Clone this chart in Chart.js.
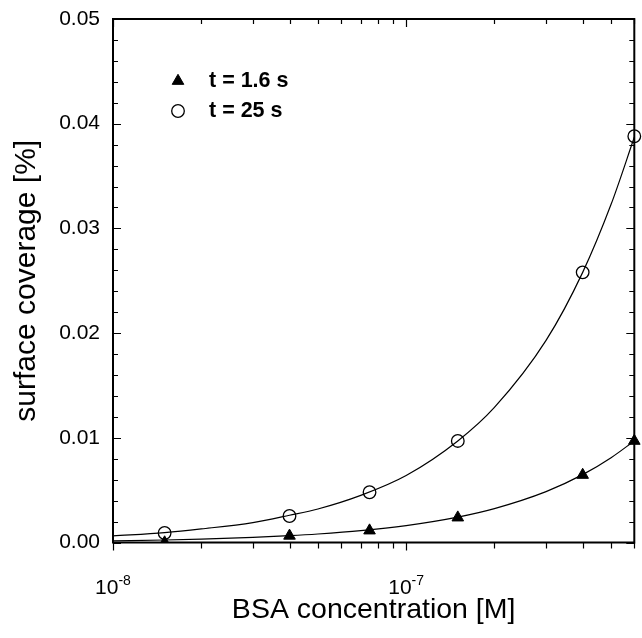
<!DOCTYPE html>
<html>
<head>
<meta charset="utf-8">
<script src="https://cdn.jsdelivr.net/npm/chart.js@4.4.1/dist/chart.umd.min.js"></script>
<style>
  html, body { margin: 0; padding: 0; background: #fff; }
</style>
</head>
<body>
<canvas id="chart" width="642" height="638"></canvas>
<script>
// measured points
const concentration = [1.5e-8, 4e-8, 7.5e-8, 1.5e-7, 4e-7, 6e-7];
const coverageShort = [0.0000, 0.00064, 0.00114, 0.00238, 0.00645, 0.0097];
const coverageLong = [0.00091, 0.00253, 0.0048, 0.0097, 0.0258, 0.0388];

// fitted curves
const fitConcentration = [1e-8, 1.5e-8, 2e-8, 3e-8, 4e-8, 5e-8, 7e-8, 1e-7, 1.5e-7, 2e-7, 3e-7, 4e-7, 5e-7, 6e-7];
const fitShort = [0.00016, 0.00024, 0.00032, 0.00049, 0.00065, 0.00081, 0.00113, 0.00162, 0.00243, 0.00324, 0.00486, 0.00648, 0.0081, 0.0097];
const fitLong = [0.00063, 0.00095, 0.0013, 0.0019, 0.0026, 0.0032, 0.0045, 0.0064, 0.0097, 0.0129, 0.0193, 0.0258, 0.0323, 0.0387];

const seriesLabels = ['t = 1.6 s', 't = 25 s'];

// axis ticks
const xMajorTicks = [1e-8, 1e-7];
const xMajorExponents = ['-8', '-7'];
const xMinorTicks = [2e-8, 3e-8, 4e-8, 5e-8, 6e-8, 7e-8, 8e-8, 9e-8, 2e-7, 3e-7, 4e-7, 5e-7, 6e-7];
const yMajorTicks = [0, 0.01, 0.02, 0.03, 0.04, 0.05];
const yMinorTicks = [0.002, 0.004, 0.006, 0.008, 0.012, 0.014, 0.016, 0.018, 0.022, 0.024, 0.026, 0.028,
  0.032, 0.034, 0.036, 0.038, 0.042, 0.044, 0.046, 0.048];

const FONT = "'Liberation Sans', Arial, sans-serif";

const toPoints = (xs, ys) => xs.map((x, i) => ({ x: x, y: ys[i] }));

// frame with ticks on all four sides, and the 10^n labels
const framePlugin = {
  id: 'frame',
  beforeDatasetsDraw(chart) {
    const { ctx, chartArea: a, scales } = chart;
    const xs = scales.x, ys = scales.y;
    ctx.save();
    ctx.strokeStyle = '#000';
    ctx.lineWidth = 1.2;
    ctx.beginPath();
    yMajorTicks.concat(yMinorTicks).forEach(v => {
      const len = yMajorTicks.includes(v) ? 8 : 5;
      const py = Math.round(ys.getPixelForValue(v)) + 0.5;
      ctx.moveTo(a.left, py); ctx.lineTo(a.left + len, py);
      ctx.moveTo(a.right, py); ctx.lineTo(a.right - len, py);
    });
    xMajorTicks.concat(xMinorTicks).forEach(v => {
      const major = xMajorTicks.includes(v);
      const px = Math.round(xs.getPixelForValue(v)) + 0.5;
      ctx.moveTo(px, a.bottom); ctx.lineTo(px, a.bottom + (major ? 8 : 6));
      ctx.moveTo(px, a.top); ctx.lineTo(px, a.top + (major ? 8 : 5));
    });
    ctx.stroke();
    ctx.lineWidth = 2;
    ctx.strokeRect(a.left, a.top, a.right - a.left, a.bottom - a.top);
    ctx.restore();
  },
  afterDraw(chart) {
    const { ctx, chartArea: a, scales } = chart;
    ctx.save();
    ctx.fillStyle = '#000';
    ctx.textBaseline = 'alphabetic';
    ctx.textAlign = 'left';
    xMajorTicks.forEach((v, i) => {
      const px = scales.x.getPixelForValue(v);
      ctx.font = '21px ' + FONT;
      const w1 = ctx.measureText('10').width;
      ctx.font = '14px ' + FONT;
      const w2 = ctx.measureText(xMajorExponents[i]).width;
      const x0 = px - (w1 + w2) / 2;
      ctx.font = '21px ' + FONT;
      ctx.fillText('10', x0, a.bottom + 51);
      ctx.font = '14px ' + FONT;
      ctx.fillText(xMajorExponents[i], x0 + w1, a.bottom + 42.5);
    });
    ctx.restore();
  }
};

// legend drawn inside the plot area
const legendPlugin = {
  id: 'insideLegend',
  afterDraw(chart) {
    const { ctx, chartArea: a } = chart;
    const entries = chart.data.datasets.filter(d => d.inLegend);
    ctx.save();
    entries.forEach((d, i) => {
      const cx = a.left + 65;
      const cy = a.top + 62 + i * 30;
      ctx.fillStyle = d.pointBackgroundColor;
      ctx.strokeStyle = d.pointBorderColor;
      ctx.lineWidth = d.pointBorderWidth;
      Chart.helpers.drawPoint(ctx, {
        pointStyle: d.pointStyle, radius: d.pointRadius, rotation: 0, borderWidth: d.pointBorderWidth
      }, cx, cy);
      ctx.fillStyle = '#000';
      ctx.font = 'bold 21.5px ' + FONT;
      ctx.textBaseline = 'middle';
      ctx.fillText(d.label, a.left + 96, cy);
    });
    ctx.restore();
  }
};

new Chart(document.getElementById('chart'), {
  type: 'scatter',
  data: {
    datasets: [
      {
        label: 'fit short',
        data: toPoints(fitConcentration, fitShort),
        showLine: true, pointRadius: 0, borderColor: '#000', borderWidth: 1.2,
        cubicInterpolationMode: 'monotone'
      },
      {
        label: 'fit long',
        data: toPoints(fitConcentration, fitLong),
        showLine: true, pointRadius: 0, borderColor: '#000', borderWidth: 1.2,
        cubicInterpolationMode: 'monotone'
      },
      {
        label: seriesLabels[0],
        inLegend: true,
        data: toPoints(concentration, coverageShort),
        pointStyle: 'triangle', pointRadius: 6.7,
        pointBackgroundColor: '#000', pointBorderColor: '#000', pointBorderWidth: 1,
        clip: { left: false, top: false, right: false, bottom: 0 }
      },
      {
        label: seriesLabels[1],
        inLegend: true,
        data: toPoints(concentration, coverageLong),
        pointStyle: 'circle', pointRadius: 6.3,
        pointBackgroundColor: 'rgba(0,0,0,0)', pointBorderColor: '#000', pointBorderWidth: 1.3,
        clip: false
      }
    ]
  },
  options: {
    responsive: false,
    animation: false,
    devicePixelRatio: 1,
    events: [],
    layout: { padding: { top: 19, right: 6, left: 0, bottom: 0 } },
    plugins: { legend: { display: false }, tooltip: { enabled: false } },
    scales: {
      x: {
        type: 'logarithmic',
        min: 1e-8,
        max: 6e-7,
        grid: { display: false, drawTicks: false },
        border: { display: false },
        ticks: { display: false },
        title: {
          display: true, text: 'BSA concentration [M]', color: '#000',
          font: { family: FONT, size: 28.5 }, padding: { top: 0, bottom: 11 }
        },
        afterFit(scale) {
          scale.height = 95.5;
          scale.paddingLeft = 0; scale.paddingRight = 0;
        }
      },
      y: {
        min: 0,
        max: 0.05,
        grid: { display: false, drawTicks: false },
        border: { display: false },
        afterBuildTicks(scale) { scale.ticks = yMajorTicks.map(v => ({ value: v })); },
        ticks: {
          color: '#000', padding: 13,
          font: { family: FONT, size: 21 },
          callback: v => v.toFixed(2)
        },
        title: {
          display: true, text: 'surface coverage [%]', color: '#000',
          font: { family: FONT, size: 30 }, padding: { top: 9, bottom: 0 }
        },
        afterFit(scale) {
          scale.width = 113;
          scale.paddingTop = 0; scale.paddingBottom = 0;
        }
      }
    }
  },
  plugins: [framePlugin, legendPlugin]
});
</script>
</body>
</html>
